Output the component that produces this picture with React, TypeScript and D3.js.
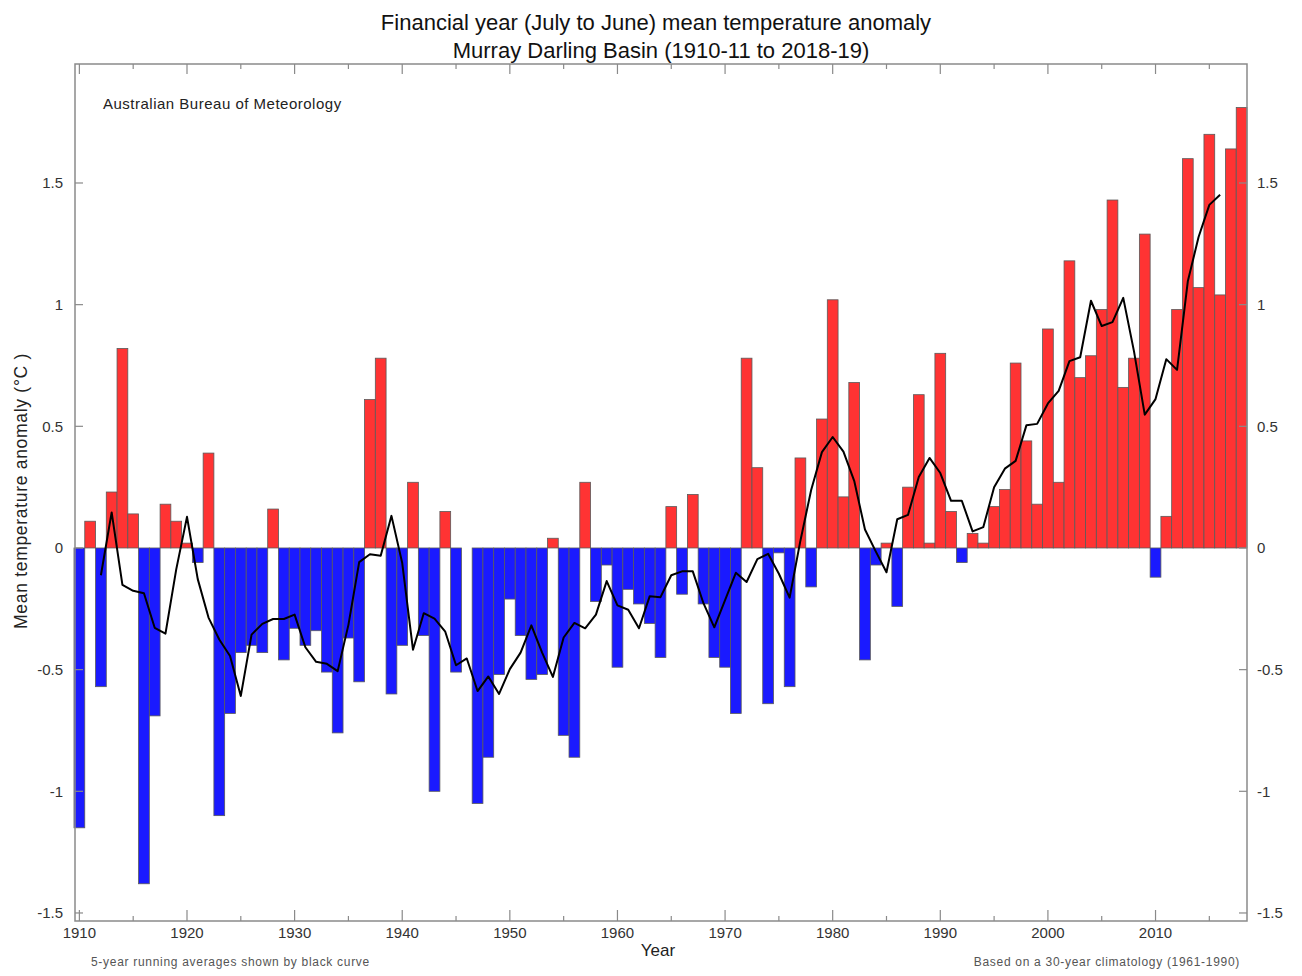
import React from 'react';
import * as d3 from 'd3';

// Financial year start (1910 => 1910-11)
const firstYear = 1910;
const anomalies: number[] = [
  -1.15, 0.11, -0.57, 0.23, 0.82, 0.14, -1.38, -0.69, 0.18, 0.11,
  0.02, -0.06, 0.39, -1.10, -0.68, -0.43, -0.40, -0.43, 0.16, -0.46,
  -0.33, -0.40, -0.34, -0.51, -0.76, -0.37, -0.55, 0.61, 0.78, -0.60,
  -0.40, 0.27, -0.36, -1.00, 0.15, -0.51, 0.00, -1.05, -0.86, -0.52,
  -0.21, -0.36, -0.54, -0.52, 0.04, -0.77, -0.86, 0.27, -0.22, -0.07,
  -0.49, -0.17, -0.23, -0.31, -0.45, 0.17, -0.19, 0.22, -0.23, -0.45,
  -0.49, -0.68, 0.78, 0.33, -0.64, -0.02, -0.57, 0.37, -0.16, 0.53,
  1.02, 0.21, 0.68, -0.46, -0.07, 0.02, -0.24, 0.25, 0.63, 0.02,
  0.80, 0.15, -0.06, 0.06, 0.02, 0.17, 0.24, 0.76, 0.44, 0.18,
  0.90, 0.27, 1.18, 0.70, 0.79, 0.98, 1.43, 0.66, 0.78, 1.29,
  -0.12, 0.13, 0.98, 1.60, 1.07, 1.70, 1.04, 1.64, 1.81,
];

// 5-year running average (black curve), first point at 1912
const runningFirstYear = 1912;
const runningMean: number[] = [
  -0.112, 0.146, -0.152, -0.176, -0.186, -0.328, -0.352, -0.088, 0.128, -0.128,
  -0.286, -0.376, -0.444, -0.608, -0.356, -0.312, -0.292, -0.292, -0.274, -0.408,
  -0.468, -0.476, -0.506, -0.316, -0.058, -0.026, -0.032, 0.132, -0.062, -0.418,
  -0.268, -0.290, -0.344, -0.482, -0.454, -0.588, -0.528, -0.600, -0.498, -0.430,
  -0.318, -0.430, -0.530, -0.368, -0.308, -0.330, -0.274, -0.136, -0.236, -0.254,
  -0.330, -0.198, -0.202, -0.112, -0.096, -0.096, -0.228, -0.326, -0.214, -0.102,
  -0.140, -0.046, -0.024, -0.106, -0.204, 0.030, 0.238, 0.394, 0.456, 0.396,
  0.276, 0.076, -0.014, -0.100, 0.118, 0.136, 0.292, 0.370, 0.308, 0.194,
  0.194, 0.068, 0.086, 0.250, 0.326, 0.358, 0.504, 0.510, 0.594, 0.646,
  0.768, 0.784, 1.016, 0.912, 0.928, 1.028, 0.808, 0.548, 0.612, 0.776,
  0.732, 1.096, 1.278, 1.410, 1.452,
];

const yTicks = [-1.5, -1, -0.5, 0, 0.5, 1, 1.5];
const yTickLabels = ['-1.5', '-1', '-0.5', '0', '0.5', '1', '1.5'];
const xMajorTicks = [1910, 1920, 1930, 1940, 1950, 1960, 1970, 1980, 1990, 2000, 2010];
const xMinorTicks = [1915, 1925, 1935, 1945, 1955, 1965, 1975, 1985, 1995, 2005, 2015];

const titleLines = [
  'Financial year (July to June) mean temperature anomaly',
  'Murray Darling Basin (1910-11 to 2018-19)',
];

export default function App() {
  const W = 1302;
  const H = 976;
  const left = 75, right = 1247, top = 64, bottom = 921;

  const x = d3.scaleLinear().domain([1909.5, 2018.5]).range([74, 1247]);
  const y = d3.scaleLinear().domain([-1.533, 1.989]).range([bottom, top]);

  const bars = anomalies.map((v, i) => ({ year: firstYear + i, v }));
  const runPts = runningMean.map((v, i) => ({ year: runningFirstYear + i, v }));
  const line = d3.line<{ year: number; v: number }>()
    .x(d => x(d.year))
    .y(d => y(d.v));

  const font = '"Liberation Sans", Arial, Helvetica, sans-serif';
  const axisColor = '#8a8a8a';
  const textColor = '#333';

  return (
    <div style={{ position: 'absolute', left: 0, top: 0 }}>
      <svg width={W} height={H} style={{ display: 'block', background: '#fff' }} fontFamily={font}>
        {/* bars */}
        {bars.map(d => {
          const x0 = x(d.year - 0.5);
          const x1 = x(d.year + 0.5);
          const y0 = y(Math.max(0, d.v));
          const y1 = y(Math.min(0, d.v));
          return (
            <rect
              key={d.year}
              x={x0}
              y={y0}
              width={x1 - x0}
              height={Math.max(0, y1 - y0)}
              fill={d.v >= 0 ? '#ff3333' : '#1a1aff'}
              stroke="#5a5a5a"
              strokeWidth={0.8}
            />
          );
        })}

        {/* running mean */}
        <path d={line(runPts) || ''} fill="none" stroke="#000" strokeWidth={2} strokeLinejoin="round" />

        {/* frame */}
        <rect x={left} y={top} width={right - left} height={bottom - top} fill="none" stroke={axisColor} strokeWidth={1.5} />

        {/* y ticks both sides */}
        {yTicks.map((t, i) => (
          <g key={'yt' + t}>
            <line x1={left} x2={left + 8} y1={y(t)} y2={y(t)} stroke={axisColor} strokeWidth={1.2} />
            <line x1={right - 8} x2={right} y1={y(t)} y2={y(t)} stroke={axisColor} strokeWidth={1.2} />
            <text x={63} y={y(t)} dy="0.35em" textAnchor="end" fontSize={15} fill={textColor}>{yTickLabels[i]}</text>
            <text x={1257} y={y(t)} dy="0.35em" textAnchor="start" fontSize={15} fill={textColor}>{yTickLabels[i]}</text>
          </g>
        ))}

        {/* x ticks bottom and top */}
        {xMajorTicks.map(t => (
          <g key={'xm' + t}>
            <line x1={x(t)} x2={x(t)} y1={bottom} y2={bottom - 11} stroke={axisColor} strokeWidth={1.2} />
            <line x1={x(t)} x2={x(t)} y1={top} y2={top + 10} stroke={axisColor} strokeWidth={1.2} />
            <text x={x(t)} y={938} textAnchor="middle" fontSize={15} fill={textColor}>{t}</text>
          </g>
        ))}
        {xMinorTicks.map(t => (
          <g key={'xn' + t}>
            <line x1={x(t)} x2={x(t)} y1={bottom} y2={bottom - 5} stroke={axisColor} strokeWidth={1.2} />
            <line x1={x(t)} x2={x(t)} y1={top} y2={top + 5} stroke={axisColor} strokeWidth={1.2} />
          </g>
        ))}

        {/* titles */}
        <text x={656} y={30} textAnchor="middle" fontSize={22} fill="#111">{titleLines[0]}</text>
        <text x={661} y={58} textAnchor="middle" fontSize={22} fill="#111">{titleLines[1]}</text>

        <text x={103} y={109} fontSize={15} letterSpacing={0.5} fill="#222">Australian Bureau of Meteorology</text>

        <text x={658} y={956} textAnchor="middle" fontSize={17} fill="#222">Year</text>
        <text
          transform={`translate(27,${491}) rotate(-90)`}
          textAnchor="middle"
          fontSize={17.5}
          letterSpacing={0.7}
          fill="#222"
        >Mean temperature anomaly (°C )</text>

        <text x={91} y={966} fontSize={12} letterSpacing={0.7} fill="#555">5-year running averages shown by black curve</text>
        <text x={1240} y={966} textAnchor="end" fontSize={12} letterSpacing={0.7} fill="#555">Based on a 30-year climatology (1961-1990)</text>
      </svg>
    </div>
  );
}
